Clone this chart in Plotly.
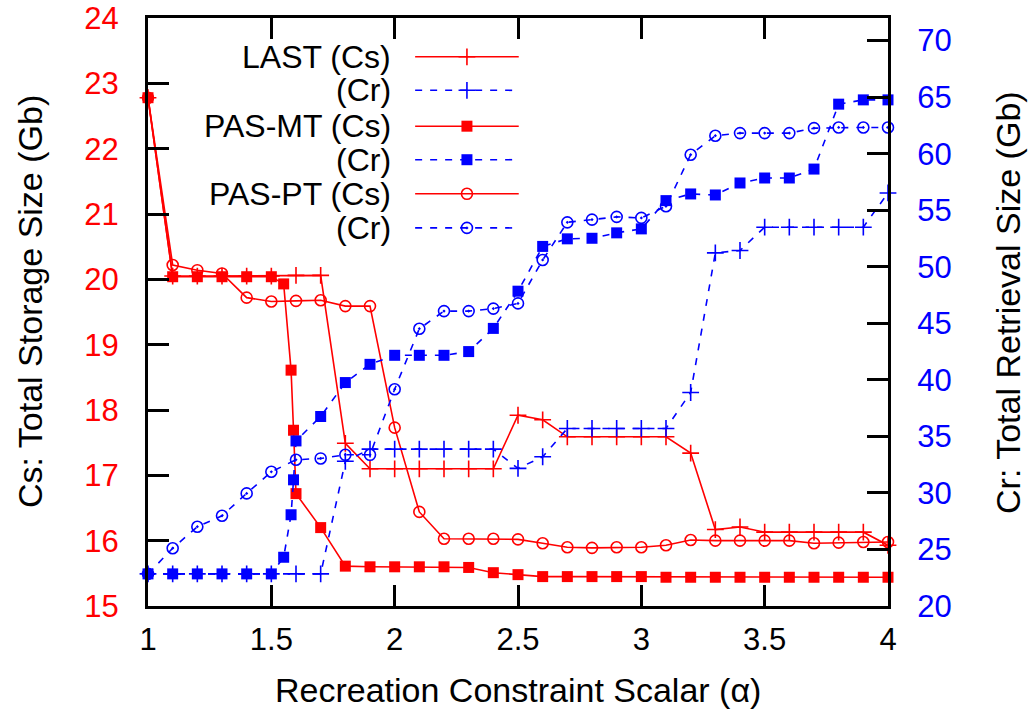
import plotly.graph_objects as go

RED = "#ff0000"
BLUE = "#0000ff"
FONT = "Liberation Sans, Arial, Helvetica, sans-serif"

# Recreation constraint scalar grid (LAST and PAS-PT runs)
alpha = [1.0, 1.1, 1.2, 1.3, 1.4, 1.5, 1.6, 1.7, 1.8, 1.9,
         2.0, 2.1, 2.2, 2.3, 2.4, 2.5, 2.6, 2.7, 2.8, 2.9,
         3.0, 3.1, 3.2, 3.3, 3.4, 3.5, 3.6, 3.7, 3.8, 3.9, 4.0]

# PAS-MT has extra samples around alpha = 1.55..1.6
alpha_mt = [1.0, 1.1, 1.2, 1.3, 1.4, 1.5, 1.55, 1.58, 1.59, 1.6,
            1.7, 1.8, 1.9, 2.0, 2.1, 2.2, 2.3, 2.4, 2.5, 2.6,
            2.7, 2.8, 2.9, 3.0, 3.1, 3.2, 3.3, 3.4, 3.5, 3.6,
            3.7, 3.8, 3.9, 4.0]

# Cs: total storage size (Gb)
last_cs = [22.78, 20.05, 20.05, 20.05, 20.05, 20.05, 20.06, 20.06, 17.49, 17.10,
           17.10, 17.10, 17.10, 17.10, 17.10, 17.92, 17.85, 17.59, 17.59, 17.59,
           17.59, 17.59, 17.34, 16.17, 16.21, 16.13, 16.13, 16.13, 16.13, 16.13,
           15.93]
pasmt_cs = [22.78, 20.04, 20.04, 20.04, 20.04, 20.04, 19.93, 18.61, 17.69, 16.72,
            16.20, 15.61, 15.60, 15.60, 15.60, 15.60, 15.59, 15.51, 15.48, 15.45,
            15.45, 15.45, 15.45, 15.45, 15.44, 15.44, 15.44, 15.44, 15.44, 15.44,
            15.44, 15.44, 15.44, 15.44]
paspt_cs = [22.78, 20.22, 20.14, 20.09, 19.72, 19.66, 19.67, 19.68, 19.59, 19.59,
            17.73, 16.44, 16.03, 16.03, 16.03, 16.02, 15.96, 15.90, 15.89, 15.90,
            15.90, 15.93, 16.01, 16.00, 16.00, 16.00, 16.00, 15.96, 15.97, 15.98,
            15.98]

# Cr: total retrieval size (Gb)
last_cr = [22.84, 22.84, 22.84, 22.84, 22.84, 22.84, 22.84, 22.84, 32.80, 33.87,
           33.87, 33.87, 33.87, 33.87, 33.87, 32.17, 33.20, 35.70, 35.70, 35.70,
           35.70, 35.70, 38.88, 51.23, 51.44, 53.50, 53.50, 53.50, 53.50, 53.50,
           56.53]
pasmt_cr = [22.84, 22.84, 22.84, 22.84, 22.84, 22.84, 24.31, 28.07, 31.16, 34.60,
            36.76, 39.76, 41.37, 42.17, 42.17, 42.17, 42.50, 44.55, 47.84, 51.80,
            52.47, 52.52, 53.00, 53.35, 55.85, 56.44, 56.35, 57.41, 57.85, 57.85,
            58.64, 64.38, 64.76, 64.76]
paspt_cr = [22.84, 25.11, 27.01, 27.98, 29.96, 31.87, 32.93, 33.05, 33.37, 33.37,
            39.17, 44.52, 46.08, 46.08, 46.30, 46.76, 50.60, 53.93, 54.17, 54.41,
            54.32, 55.35, 59.91, 61.59, 61.82, 61.82, 61.82, 62.26, 62.32, 62.32,
            62.32]

x_ticks = [1, 1.5, 2, 2.5, 3, 3.5, 4]
x_tick_text = ["1", "1.5", "2", "2.5", "3", "3.5", "4"]

legend_labels = ["LAST (Cs)", "(Cr)", "PAS-MT (Cs)", "(Cr)", "PAS-PT (Cs)", "(Cr)"]

LW = 1.6
DASH = "7px,8px"

plus_red = dict(symbol="cross-thin-open", size=12, color=RED, line=dict(color=RED, width=1.6))
plus_blue = dict(symbol="cross-thin-open", size=12, color=BLUE, line=dict(color=BLUE, width=1.6))
sq_red = dict(symbol="square", size=11, color=RED, line=dict(width=0))
sq_blue = dict(symbol="square", size=11, color=BLUE, line=dict(width=0))
circ_red = dict(symbol="circle-open", size=11, color=RED, line=dict(color=RED, width=1.6))
circ_blue = dict(symbol="circle-open-dot", size=11, color=BLUE, line=dict(color=BLUE, width=1.6))

series = [
    (alpha, last_cs, "y", dict(color=RED, width=LW), plus_red),
    (alpha, last_cr, "y2", dict(color=BLUE, width=LW, dash=DASH), plus_blue),
    (alpha_mt, pasmt_cs, "y", dict(color=RED, width=LW), sq_red),
    (alpha_mt, pasmt_cr, "y2", dict(color=BLUE, width=LW, dash=DASH), sq_blue),
    (alpha, paspt_cs, "y", dict(color=RED, width=LW), circ_red),
    (alpha, paspt_cr, "y2", dict(color=BLUE, width=LW, dash=DASH), circ_blue),
]

fig = go.Figure()
for xs, ys, yax, line, marker in series:
    fig.add_trace(go.Scatter(x=xs, y=ys, yaxis=yax, mode="lines+markers",
                             line=line, marker=marker, cliponaxis=False,
                             showlegend=False, hoverinfo="skip"))

# Key drawn in a unit-square overlay: text on the left, sample on the right
key_rows = [0.934, 0.877, 0.816, 0.759, 0.701, 0.643]
key_x0, key_xm, key_x1, key_text_x = 0.361, 0.431, 0.501, 0.331
for (xs, ys, yax, line, marker), label, ky in zip(series, legend_labels, key_rows):
    fig.add_trace(go.Scatter(x=[key_x0, key_x1], y=[ky, ky], xaxis="x3", yaxis="y3",
                             mode="lines", line=line, showlegend=False, hoverinfo="skip"))
    fig.add_trace(go.Scatter(x=[key_xm], y=[ky], xaxis="x3", yaxis="y3",
                             mode="markers", marker=marker, showlegend=False,
                             hoverinfo="skip", cliponaxis=False))
    fig.add_annotation(x=key_text_x, y=ky, xref="x3", yref="y3", text=label,
                       showarrow=False, xanchor="right", yanchor="middle",
                       font=dict(family=FONT, size=32, color="black"))

axis_common = dict(showline=True, linecolor="black", linewidth=3,
                   ticks="inside", ticklen=21, tickwidth=3, tickcolor="black",
                   showgrid=False, zeroline=False, automargin=False,
                   ticklabelposition="outside")

fig.update_layout(
    template="none",
    width=1028, height=714, autosize=False,
    margin=dict(l=148, r=140, t=18, b=108, pad=0),
    paper_bgcolor="white", plot_bgcolor="white",
    font=dict(family=FONT, size=30, color="black"),
    xaxis=dict(range=[1, 4], tickvals=x_ticks, ticktext=x_tick_text, mirror="ticks",
               tickfont=dict(family=FONT, size=31, color="black"),
               ticklabelstandoff=4, **axis_common),
    yaxis=dict(range=[15, 24], dtick=1, tick0=15,
               tickfont=dict(family=FONT, size=31, color=RED),
               ticklabelstandoff=20, **axis_common),
    yaxis2=dict(range=[20, 72], dtick=5, tick0=20, overlaying="y", side="right",
                tickfont=dict(family=FONT, size=31, color=BLUE),
                ticklabelstandoff=20, **axis_common),
    xaxis3=dict(range=[0, 1], overlaying="x", visible=False, anchor="y3", automargin=False),
    yaxis3=dict(range=[0, 1], overlaying="y", visible=False, anchor="x3", automargin=False),
)

# Axis titles
fig.add_annotation(x=(518 - 148) / 740, y=(606 - 690) / 588, xref="paper", yref="paper",
                   text="Recreation Constraint Scalar (α)", showarrow=False,
                   xanchor="center", yanchor="middle",
                   font=dict(family=FONT, size=34, color="black"))
fig.add_annotation(x=(30 - 148) / 740, y=(606 - 302) / 588, xref="paper", yref="paper",
                   text="Cs: Total Storage Size (Gb)", showarrow=False, textangle=-90,
                   xanchor="center", yanchor="middle",
                   font=dict(family=FONT, size=34, color="black"))
fig.add_annotation(x=(1008 - 148) / 740, y=(606 - 302) / 588, xref="paper", yref="paper",
                   text="Cr: Total Retrieval Size (Gb)", showarrow=False, textangle=-90,
                   xanchor="center", yanchor="middle",
                   font=dict(family=FONT, size=34, color="black"))

fig.write_html("out.html")
